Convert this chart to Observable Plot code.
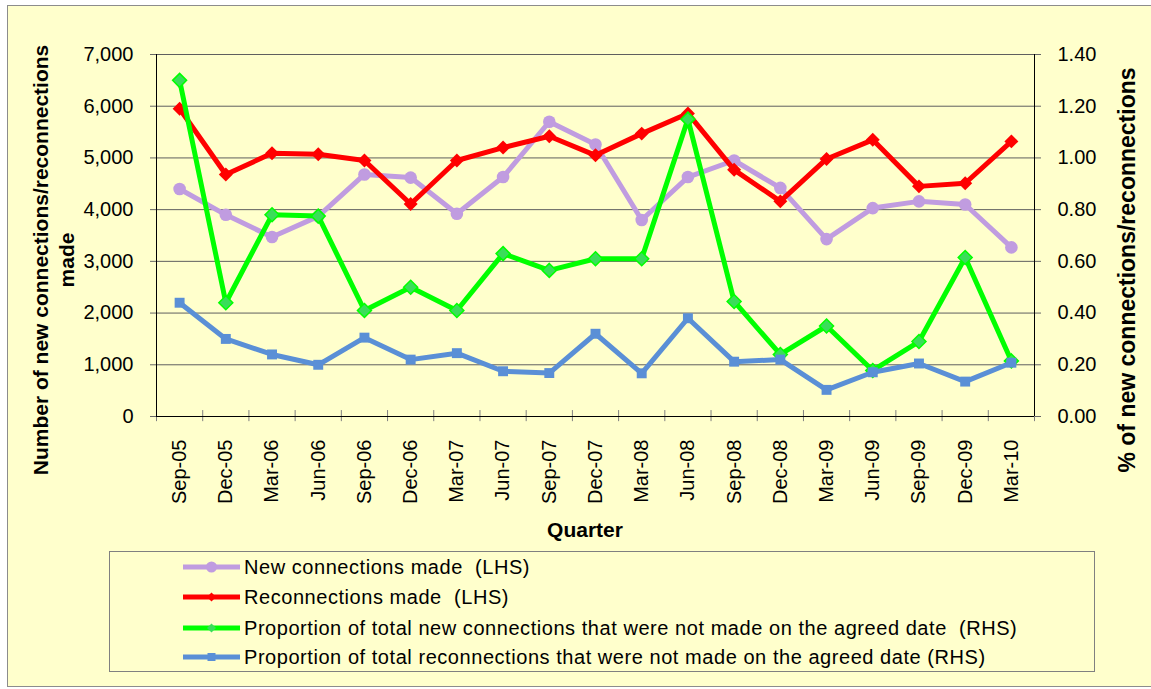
<!DOCTYPE html>
<html>
<head>
<meta charset="utf-8">
<script src="https://cdn.jsdelivr.net/npm/d3@7"></script>
<script src="https://cdn.jsdelivr.net/npm/@observablehq/plot@0.6"></script>
<style>
  body { margin: 0; background: #ffffff; font-family: "Liberation Sans", Arial, sans-serif; }
  #frame { position: absolute; left: 7px; top: 5px; width: 1145px; height: 682px; background: #FFFFCC; border: 1px solid #8c8c8c; box-sizing: border-box; }
  #chart { position: absolute; left: 0; top: 0; }
  .title { position: absolute; font-weight: bold; font-size: 21px; white-space: nowrap; text-align: center; color: #000; }
  .rot { transform: translate(-50%, -50%) rotate(-90deg); line-height: 26px; }
  #legend { position: absolute; left: 109px; top: 551px; width: 986px; height: 121px; border: 1px solid #808080; box-sizing: border-box; }
  .row { position: absolute; left: 73px; height: 20px; display: flex; align-items: center; }
  .row svg { width: 57px; height: 16px; }
  .row span { margin-left: 4px; font-size: 20px; letter-spacing: 0.55px; white-space: pre; color: #000; }
</style>
</head>
<body>
<div id="frame"></div>
<div id="chart"></div>
<div class="title rot" style="left:54px; top:260px;">Number of new connections/reconnections<br>made</div>
<div class="title rot" style="left:1127px; top:270px; font-size:23px;">% of new connections/reconnections</div>
<div class="title" style="left:585px; top:530px; transform: translate(-50%, -50%);">Quarter</div>
<div id="legend"></div>
<script>
const quarters = ["Sep-05","Dec-05","Mar-06","Jun-06","Sep-06","Dec-06","Mar-07","Jun-07","Sep-07","Dec-07","Mar-08","Jun-08","Sep-08","Dec-08","Mar-09","Jun-09","Sep-09","Dec-09","Mar-10"];
const newConnections = [4400,3900,3470,3870,4680,4620,3920,4630,5700,5260,3800,4630,4950,4420,3430,4030,4160,4100,3270];
const reconnections = [5950,4680,5090,5070,4950,4110,4950,5200,5420,5050,5470,5860,4770,4160,4980,5350,4450,4510,5320];
const propNewLate = [1.30,0.44,0.78,0.775,0.41,0.50,0.41,0.63,0.565,0.61,0.61,1.15,0.445,0.24,0.35,0.178,0.29,0.615,0.215];
const propReconLate = [0.44,0.30,0.24,0.20,0.305,0.22,0.245,0.175,0.168,0.32,0.167,0.38,0.212,0.22,0.103,0.171,0.205,0.135,0.208];
const leftTicks = [0,1000,2000,3000,4000,5000,6000,7000];
const rightTicks = [0,0.2,0.4,0.6,0.8,1.0,1.2,1.4];
const seriesNames = [
  "New connections made  (LHS)",
  "Reconnections made  (LHS)",
  "Proportion of total new connections that were not made on the agreed date  (RHS)",
  "Proportion of total reconnections that were not made on the agreed date (RHS)"
];
const colors = ["#C09CE0", "#FF0000", "#00FF00", "#5A8FD6"];

const ratio = 7000 / 1.4; // RHS -> LHS units
const toRows = (vals, k) => vals.map((v, i) => ({i, y: v * k}));
const purple = toRows(newConnections, 1);
const red = toRows(reconnections, 1);
const green = toRows(propNewLate, ratio);
const blue = toRows(propReconLate, ratio);
const idx = quarters.map((_, i) => i);
const bounds = d3.range(quarters.length + 1).map(i => i - 0.5);

const plot = Plot.plot({
  width: 1151,
  height: 545,
  marginLeft: 156,
  marginRight: 117,
  marginTop: 54,
  marginBottom: 129,
  style: {background: "transparent", fontFamily: "'Liberation Sans', Arial, sans-serif", fontSize: "20px", color: "#000", overflow: "visible"},
  x: {type: "linear", domain: [-0.5, quarters.length - 0.5]},
  y: {domain: [0, 7000]},
  marks: [
    Plot.ruleY(leftTicks.slice(1), {stroke: "#5f5f5f", strokeWidth: 1}),
    Plot.ruleX(bounds, {x: d => d, y1: -100, y2: 115, stroke: "#808080"}),
    Plot.axisY({anchor: "left", ticks: leftTicks, tickFormat: d3.format(","), tickSize: 6, tickPadding: 17, label: null, stroke: "#666", fontSize: 20}),
    Plot.axisY({anchor: "right", ticks: rightTicks.map(v => v * ratio), tickFormat: d => (d / ratio).toFixed(2), tickSize: 6, tickPadding: 17, label: null, stroke: "#666", fontSize: 20}),
    Plot.axisX({ticks: idx, tickFormat: i => quarters[i], tickRotate: -90, tickSize: 0, tickPadding: 23, label: null, fontSize: 20}),
    Plot.ruleY([0], {stroke: "#000"}),
    Plot.ruleX([-0.5, quarters.length - 0.5], {stroke: "#000"}),
    Plot.line(purple, {x: "i", y: "y", stroke: colors[0], strokeWidth: 5, strokeLinejoin: "round"}),
    Plot.dot(purple, {x: "i", y: "y", r: 6.3, fill: colors[0], symbol: "circle"}),
    Plot.line(red, {x: "i", y: "y", stroke: colors[1], strokeWidth: 5, strokeLinejoin: "round"}),
    Plot.dot(red, {x: "i", y: "y", r: 6.3, fill: colors[1], symbol: "diamond2"}),
    Plot.line(green, {x: "i", y: "y", stroke: colors[2], strokeWidth: 5, strokeLinejoin: "round"}),
    Plot.dot(green, {x: "i", y: "y", r: 6.3, fill: "#3ADD5A", stroke: "#00FF00", strokeWidth: 1.5, symbol: "diamond2"}),
    Plot.line(blue, {x: "i", y: "y", stroke: colors[3], strokeWidth: 5, strokeLinejoin: "round"}),
    Plot.dot(blue, {x: "i", y: "y", r: 5.6, fill: colors[3], symbol: "square"})
  ]
});
document.getElementById("chart").appendChild(plot);

// Legend
const legend = document.getElementById("legend");
const rowTops = [15, 45, 76, 105];
const markerSvg = [
  c => `<circle cx="28.5" cy="8" r="5.5" fill="${c}"/>`,
  c => `<path d="M28.5 3.5 L33 8 L28.5 12.5 L24 8 Z" fill="${c}"/>`,
  c => `<path d="M28.5 3.5 L33 8 L28.5 12.5 L24 8 Z" fill="#3ADD5A"/>`,
  c => `<rect x="24.5" y="4" width="8" height="8" fill="${c}"/>`
];
seriesNames.forEach((name, k) => {
  const row = document.createElement("div");
  row.className = "row";
  row.style.top = (rowTops[k] - 10) + "px";
  row.innerHTML = `<svg viewBox="0 0 57 16"><line x1="0" y1="8" x2="57" y2="8" stroke="${colors[k]}" stroke-width="5"/>${markerSvg[k](colors[k])}</svg><span>${name}</span>`;
  legend.appendChild(row);
});
</script>
</body>
</html>
